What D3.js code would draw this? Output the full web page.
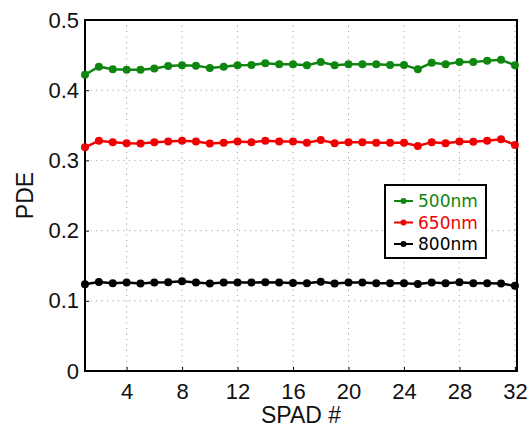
<!DOCTYPE html>
<html>
<head>
<meta charset="utf-8">
<script src="https://cdnjs.cloudflare.com/ajax/libs/d3/7.8.5/d3.min.js"></script>
<style>
  body { margin: 0; background: #fff; }
  svg { display: block; font-family: "Liberation Sans", Arial, sans-serif; }
</style>
</head>
<body>
<svg width="530" height="427"></svg>
<script>
// data
var spad = d3.range(1, 33);
var pde500 = [0.422, 0.4335, 0.430, 0.429, 0.429, 0.431, 0.4345, 0.4355, 0.435, 0.4316,
              0.4335, 0.4355, 0.436, 0.4383, 0.437, 0.437, 0.4355, 0.440, 0.4355, 0.437,
              0.437, 0.437, 0.436, 0.436, 0.430, 0.439, 0.437, 0.440, 0.440, 0.442,
              0.4435, 0.4355];
var pde650 = [0.3187, 0.328, 0.3257, 0.3243, 0.324, 0.3257, 0.327, 0.328, 0.327, 0.324,
              0.325, 0.327, 0.3257, 0.328, 0.327, 0.327, 0.325, 0.329, 0.3245, 0.3257,
              0.3257, 0.3253, 0.3253, 0.325, 0.3205, 0.326, 0.3245, 0.327, 0.3265, 0.328,
              0.330, 0.322];
var pde800 = [0.1235, 0.1268, 0.125, 0.126, 0.1245, 0.126, 0.1265, 0.1278, 0.126, 0.1245,
              0.126, 0.126, 0.126, 0.1265, 0.126, 0.1255, 0.125, 0.127, 0.1245, 0.126,
              0.126, 0.125, 0.125, 0.125, 0.124, 0.126, 0.125, 0.1265, 0.125, 0.125,
              0.1245, 0.1215];
var seriesNames = ['500nm', '650nm', '800nm'];
var seriesColors = ['#0f860f', '#f00000', '#000000'];
var xTicks = [4, 8, 12, 16, 20, 24, 28, 32];
var yTicks = [0, 0.1, 0.2, 0.3, 0.4, 0.5];

var svg = d3.select('svg');
var plot = { left: 85, right: 517, top: 20, bottom: 371 };

var xScale = d3.scaleLinear().domain([1, 32.15]).range([plot.left, plot.right]);
var yScale = d3.scaleLinear().domain([0, 0.5]).range([plot.bottom, plot.top]);

// grid
var grid = svg.append('g')
    .attr('stroke', '#999')
    .attr('stroke-width', 1)
    .attr('stroke-dasharray', '1,4.5');
grid.selectAll('line.gx')
    .data(xTicks)
  .enter().append('line')
    .attr('x1', function(d) { return xScale(d); })
    .attr('x2', function(d) { return xScale(d); })
    .attr('y1', plot.top)
    .attr('y2', plot.bottom);
grid.selectAll('line.gy')
    .data(yTicks.slice(1, -1))
  .enter().append('line')
    .attr('x1', plot.left)
    .attr('x2', plot.right)
    .attr('y1', function(d) { return yScale(d); })
    .attr('y2', function(d) { return yScale(d); });

// axes
var xAxis = d3.axisBottom(xScale).tickValues(xTicks).tickSize(-4).tickPadding(12);
var yAxis = d3.axisLeft(yScale).tickValues(yTicks).tickSize(-4).tickPadding(6)
    .tickFormat(function(d) { return d === 0 ? '0' : d3.format('.1f')(d); });

var gx = svg.append('g').attr('transform', 'translate(0,' + plot.bottom + ')').call(xAxis);
var gy = svg.append('g').attr('transform', 'translate(' + plot.left + ',0)').call(yAxis);
[gx, gy].forEach(function(g) {
  g.select('.domain').remove();
  g.selectAll('.tick line').attr('stroke', '#000').attr('stroke-width', 1);
  g.selectAll('.tick text').attr('font-size', 22).attr('fill', '#111')
    .attr('font-family', '"Liberation Sans", Arial, sans-serif');
});

// frame
svg.append('rect')
    .attr('x', plot.left).attr('y', plot.top)
    .attr('width', plot.right - plot.left).attr('height', plot.bottom - plot.top)
    .attr('fill', 'none').attr('stroke', '#000').attr('stroke-width', 2);

// series
var allSeries = [pde500, pde650, pde800];
var line = d3.line()
    .x(function(d, i) { return xScale(spad[i]); })
    .y(function(d) { return yScale(d); });

allSeries.forEach(function(vals, k) {
  var g = svg.append('g');
  g.append('path')
      .datum(vals)
      .attr('d', line)
      .attr('fill', 'none')
      .attr('stroke', seriesColors[k])
      .attr('stroke-width', 2.5);
  g.selectAll('circle')
      .data(vals)
    .enter().append('circle')
      .attr('cx', function(d, i) { return xScale(spad[i]); })
      .attr('cy', function(d) { return yScale(d); })
      .attr('r', 4)
      .attr('fill', seriesColors[k]);
});

// axis labels
svg.append('text')
    .attr('x', (plot.left + plot.right) / 2).attr('y', 423)
    .attr('text-anchor', 'middle')
    .attr('font-size', 23).attr('fill', '#111')
    .text('SPAD #');
svg.append('text')
    .attr('transform', 'translate(33,' + ((plot.top + plot.bottom) / 2) + ') rotate(-90)')
    .attr('text-anchor', 'middle')
    .attr('font-size', 23).attr('fill', '#111')
    .text('PDE');

// legend
var legend = svg.append('g');
legend.append('rect')
    .attr('x', 385).attr('y', 185)
    .attr('width', 101).attr('height', 73)
    .attr('fill', '#fff').attr('stroke', '#000').attr('stroke-width', 2);
seriesNames.forEach(function(name, k) {
  var cy = 201 + k * 21.5;
  legend.append('line')
      .attr('x1', 394).attr('x2', 413)
      .attr('y1', cy).attr('y2', cy)
      .attr('stroke', seriesColors[k]).attr('stroke-width', 2);
  legend.append('circle')
      .attr('cx', 403.5).attr('cy', cy).attr('r', 3)
      .attr('fill', seriesColors[k]);
  legend.append('text')
      .attr('x', 418).attr('y', cy)
      .attr('dy', '0.36em')
      .attr('font-size', 17)
      .attr('font-family', '"DejaVu Sans", "Open Sans", sans-serif')
      .attr('fill', seriesColors[k])
      .text(name);
});
</script>
</body>
</html>
